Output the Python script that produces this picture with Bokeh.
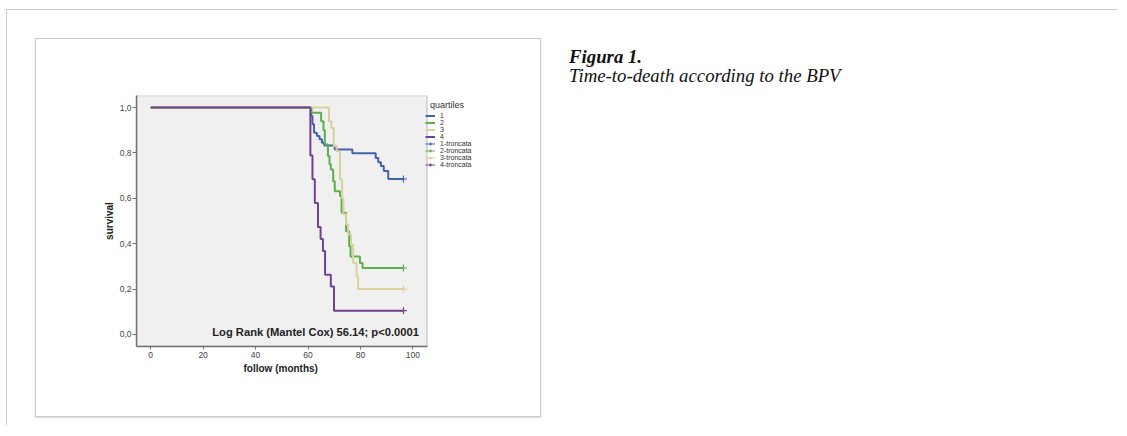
from bokeh.plotting import figure
from bokeh.models import (Range1d, FixedTicker, Legend, LegendItem, Label, Div, Spacer,
                          Column, Row, BoxAnnotation, Title)
from bokeh.embed import file_html
from bokeh.resources import INLINE

# ---------------- data ----------------
quartile_labels = ["1", "2", "3", "4"]
censor_labels = ["1-troncata", "2-troncata", "3-troncata", "4-troncata"]

q1_time = [0, 61.2, 61.7, 62.3, 63.4, 64.4, 65.3, 66.2, 70.2, 76.9, 85.8, 86.8, 87.8, 88.9, 90.6, 96.4]
q1_surv = [1.0, 0.963, 0.926, 0.889, 0.874, 0.860, 0.845, 0.833, 0.815, 0.798, 0.778, 0.759, 0.742, 0.720, 0.685, 0.685]

q2_time = [0, 61.3, 65.0, 65.9, 66.4, 67.6, 68.2, 68.7, 69.6, 70.2, 72.2, 72.8, 74.5, 75.7, 76.2, 79.8, 80.8, 96.4]
q2_surv = [1.0, 0.977, 0.940, 0.900, 0.837, 0.786, 0.750, 0.727, 0.675, 0.631, 0.610, 0.536, 0.455, 0.389, 0.344, 0.315, 0.293, 0.293]

q3_time = [0, 68.0, 68.9, 69.8, 70.9, 72.2, 73.0, 73.5, 74.5, 75.3, 76.4, 77.2, 78.5, 79.1, 96.4]
q3_surv = [1.0, 0.940, 0.910, 0.830, 0.808, 0.683, 0.600, 0.530, 0.486, 0.440, 0.397, 0.315, 0.256, 0.200, 0.200]

q4_time = [0, 60.9, 61.7, 62.6, 63.8, 64.8, 65.7, 66.5, 68.7, 69.9, 96.4]
q4_surv = [1.0, 0.789, 0.684, 0.579, 0.474, 0.421, 0.368, 0.263, 0.211, 0.105, 0.105]

x_ticks = [0, 20, 40, 60, 80, 100]
y_ticks = [0.0, 0.2, 0.4, 0.6, 0.8, 1.0]
y_tick_labels = ["0,0", "0,2", "0,4", "0,6", "0,8", "1,0"]

colors = ["#4262ad", "#5cb04a", "#d9d19c", "#72408e"]
annotation_text = "Log Rank (Mantel Cox) 56.14; p<0.0001"
x_label = "follow (months)"
y_label = "survival"

# plotting area (axis limits incl. SPSS padding)
x_lo, x_hi = -5.4, 105.4
y_lo, y_hi = -0.053, 1.053

# ---------------- chart ----------------
# the frame is widened to the right so that the legend (which sits outside the grey
# plotting area in the original) is not clipped; the grey area is a box annotation
p = figure(width=506, height=379,
           x_range=Range1d(x_lo, 145.6), y_range=Range1d(y_lo, y_hi),
           output_backend="svg", toolbar_location=None,
           min_border_left=100, min_border_right=10, min_border_top=56, min_border_bottom=72,
           background_fill_color="white", border_fill_color="white",
           outline_line_color=None,
           styles={"border": "1px solid #cccccc", "box-shadow": "0 1px 2px rgba(0,0,0,0.15)"})
p.grid.visible = False

p.add_layout(BoxAnnotation(left=x_lo, right=x_hi, bottom=y_lo, top=y_hi,
                           fill_color="#f0f0f0", fill_alpha=1.0,
                           line_color="#707070", line_width=1.5, level="underlay"))

times = [q1_time, q2_time, q3_time, q4_time]
survs = [q1_surv, q2_surv, q3_surv, q4_surv]

step_r, cens_r, dummy_r = [], [], []
for t, s, c in zip(times, survs, colors):
    step_r.append(p.step(t, s, mode="after", line_color=c, line_width=2))
for t, s, c in zip(times, survs, colors):
    dummy_r.append(p.line([t[-1]], [s[-1]], line_color=c, line_width=1))
    cens_r.append(p.scatter([t[-1]], [s[-1]], marker="cross", size=7, line_color=c, line_width=1.2))

font = "Liberation Sans"
for ax in (p.xaxis[0], p.yaxis[0]):
    ax.axis_line_color = "#707070"
    ax.axis_line_width = 1.5
    ax.major_tick_line_color = "#707070"
    ax.major_tick_in = 0
    ax.minor_tick_line_color = None
    ax.major_label_text_font = font
    ax.major_label_text_font_size = "8.5px"
    ax.major_label_text_color = "#444444"
    ax.axis_label_text_font = font
    ax.axis_label_text_font_size = "10px"
    ax.axis_label_text_font_style = "bold"
    ax.axis_label_text_color = "#222222"

p.xaxis.ticker = FixedTicker(ticks=x_ticks)
p.yaxis.ticker = FixedTicker(ticks=y_ticks)
p.xaxis.bounds = (x_lo, x_hi)
p.yaxis.major_label_overrides = dict(zip(y_ticks, y_tick_labels))
p.xaxis.major_tick_out = 3
p.yaxis.major_tick_out = 4
p.xaxis.major_label_standoff = 2
p.yaxis.major_label_standoff = 1
p.yaxis.axis_label = y_label
p.yaxis.axis_label_standoff = 2

# x axis title, centred under the grey plotting area (not under the widened frame)
p.add_layout(Title(text=x_label, align="left", offset=107, text_font=font,
                   text_font_size="10px", text_font_style="bold", text_color="#222222",
                   standoff=0), "below")

p.add_layout(Label(x=102.3, y=0.013, text=annotation_text, text_align="right",
                   text_baseline="middle", text_font=font, text_font_size="11.2px",
                   text_font_style="bold", text_color="#222222"))

items = [LegendItem(label=l, renderers=[r]) for l, r in zip(quartile_labels, step_r)]
items += [LegendItem(label=l, renderers=[d, r]) for l, d, r in zip(censor_labels, dummy_r, cens_r)]
legend = Legend(items=items, title="\u00a0\u00a0quartiles", location=(289, 178),
                title_text_font=font, title_text_font_size="9px", title_text_font_style="normal",
                title_text_color="#333333", title_standoff=2,
                label_text_font=font, label_text_font_size="7px", label_text_color="#333333",
                glyph_width=10, glyph_height=7, label_height=7, label_standoff=5,
                spacing=0, padding=2, margin=0,
                border_line_color=None, background_fill_alpha=0)
p.add_layout(legend, "center")

# ---------------- page ----------------
caption = Div(text=("<div style=\"font-family:'Liberation Serif';font-style:italic;"
                    "font-size:18.8px;line-height:19px;color:#111;padding-top:9px;white-space:nowrap\">"
                    "<b>Figura 1.</b><br>Time-to-death according to the BPV</div>"),
              width=530, height=100, margin=0)

row = Row(children=[Spacer(width=28, height=10, margin=0), p,
                    Spacer(width=28, height=10, margin=0), caption], spacing=0, margin=0)
page = Column(children=[Spacer(width=1110, height=28, margin=0), row,
                        Spacer(width=10, height=8, margin=0)],
              spacing=0, margin=(9, 0, 0, 6),
              styles={"border-top": "1px solid #cccccc", "border-left": "1px solid #cccccc"})

open("out.html", "w").write(file_html(page, INLINE))
